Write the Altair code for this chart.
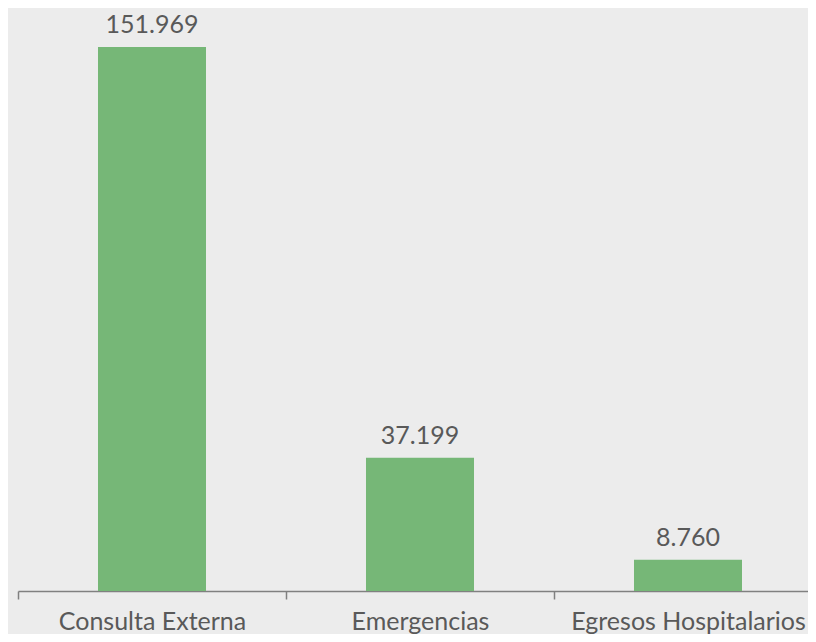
import altair as alt
import pandas as pd

categories = ["Consulta Externa", "Emergencias", "Egresos Hospitalarios"]
values = [151969, 37199, 8760]
value_labels = ["151.969", "37.199", "8.760"]

df = pd.DataFrame({"cat": categories, "val": values, "lab": value_labels})

FONT = "Lato"
TXT = "#595959"

x = alt.X(
    "cat:N",
    sort=categories,
    scale=alt.Scale(paddingInner=0, paddingOuter=0, range=[0, 804]),
    axis=alt.Axis(
        title=None,
        labelAngle=0,
        ticks=True,
        tickBand="extent",
        domainColor="#808080",
        tickColor="#808080",
        tickSize=8,
        domainWidth=1.5,
        tickWidth=1.5,
        labelFont=FONT,
        labelFontSize=25,
        labelColor=TXT,
        labelLimit=0,
        labelBaseline="alphabetic",
        labelPadding=30,
    ),
)
y = alt.Y("val:Q", scale=alt.Scale(domain=[0, 162862], nice=False), axis=None)

bars = alt.Chart(df).mark_bar(
    color="#76b777", width=alt.RelativeBandSize(0.403)
).encode(x=x, y=y)
text = alt.Chart(df).mark_text(
    dy=-14, baseline="alphabetic", fontSize=25, font=FONT, color=TXT
).encode(x=x, y=y, text="lab:N")

chart = (
    (bars + text)
    .properties(
        width=790,
        height=583,
        background="#ececec",
        autosize=alt.AutoSizeParams(type="none"),
        padding={"left": 10, "top": 0, "right": 0, "bottom": 43},
    )
    .configure_view(stroke=None)
)

chart.save("out.html", embed_options={"renderer": "svg", "actions": False})
